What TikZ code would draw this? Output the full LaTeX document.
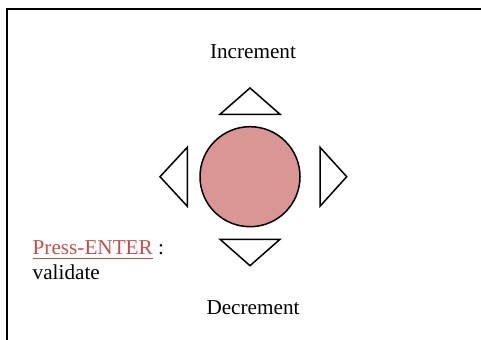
\documentclass[tikz,border=0pt]{standalone}
\usepackage{fontspec}
\setmainfont{Liberation Serif}
\usetikzlibrary{positioning}
\definecolor{keyred}{RGB}{192,80,77}
\definecolor{keyfill}{RGB}{217,150,148}

\begin{document}
\begin{tikzpicture}[x=0.5pt,y=0.5pt,
    lbl/.style={font=\fontsize{10.6pt}{12.5pt}\selectfont,inner sep=0pt},
    arrowkey/.style={draw=black,line width=0.75pt,line join=miter,fill=white}]
  \useasboundingbox (0,0) rectangle (481,340);
  \clip (0,0) rectangle (481,340);
  % ---- frame (runs off the right and bottom edge)
  \draw[line width=1pt] (6.5,-20) -- (6.5,330.5) -- (500,330.5);
  % ---- centre button
  \node[circle,draw=black,line width=0.75pt,fill=keyfill,minimum size=50pt,inner sep=0pt] (btn) at (250,163.3) {};
  % ---- arrow keys
  \draw[arrowkey] (220,225.7) -- (280,225.7) -- (250,252) -- cycle;
  \draw[arrowkey] (220,100.7) -- (280,100.7) -- (250,74.3) -- cycle;
  \draw[arrowkey] (187.3,192.7) -- (187.3,133.7) -- (160,163.3) -- cycle;
  \draw[arrowkey] (320,192.7) -- (320,133.7) -- (346.7,163.3) -- cycle;
  % ---- labels
  \node[lbl,anchor=base] (inc) at (253,281.7) {Increment};
  \node[lbl,anchor=base] (dec) at (253,25) {Decrement};
  \node[lbl,anchor=base west] (press) at (32.3,85) {\textcolor{keyred}{\underline{Press-ENTER}} :};
  \node[lbl,anchor=base west] (val) at ([yshift=-12.5pt]press.base west) {validate};
\end{tikzpicture}
\end{document}
